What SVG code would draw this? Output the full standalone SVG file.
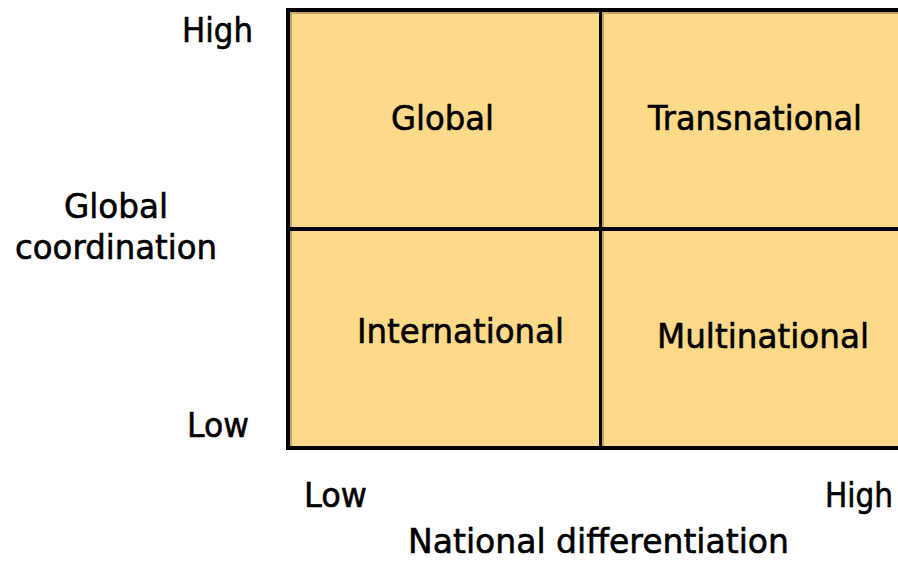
<svg xmlns="http://www.w3.org/2000/svg" width="898" height="562" viewBox="0 0 898 562">
  <style>
    .cell { fill: #FDD98A; }
    .shade { stroke: #C4A264; stroke-width: 2; fill: none; }
    .rule { stroke: #000; fill: none; }
    .lbl { font-family: "DejaVu Sans", "Liberation Sans", sans-serif; font-size: 34px; fill: #000; stroke: #000; stroke-width: 0.6; }
  </style>
  <rect width="898" height="562" fill="#fff"/>

  <!-- quadrant cells -->
  <g id="cell-global">
    <rect class="cell" x="288" y="10" width="312.5" height="219"/>
    <text class="lbl" x="391" y="130" textLength="103" lengthAdjust="spacingAndGlyphs">Global</text>
  </g>
  <g id="cell-transnational">
    <rect class="cell" x="600.5" y="10" width="300" height="219"/>
    <text class="lbl" x="648" y="130" textLength="214" lengthAdjust="spacingAndGlyphs">Transnational</text>
  </g>
  <g id="cell-international">
    <rect class="cell" x="288" y="229" width="312.5" height="219"/>
    <text class="lbl" x="357" y="343" textLength="207" lengthAdjust="spacingAndGlyphs">International</text>
  </g>
  <g id="cell-multinational">
    <rect class="cell" x="600.5" y="229" width="300" height="219"/>
    <text class="lbl" x="657" y="348" textLength="212" lengthAdjust="spacingAndGlyphs">Multinational</text>
  </g>

  <!-- grid lines -->
  <g id="grid">
    <line class="shade" x1="291" y1="12" x2="291" y2="446"/>
    <line class="shade" x1="290" y1="13" x2="898" y2="13"/>
    <line class="shade" x1="603" y1="12" x2="603" y2="446"/>
    <line class="rule" stroke-width="4" x1="288" y1="8" x2="288" y2="450"/>
    <line class="rule" stroke-width="4" x1="286" y1="10" x2="898" y2="10"/>
    <line class="rule" stroke-width="4" x1="286" y1="448" x2="898" y2="448"/>
    <line class="rule" stroke-width="3" x1="600.5" y1="10" x2="600.5" y2="448"/>
    <line class="rule" stroke-width="4" x1="288" y1="229" x2="898" y2="229"/>
  </g>

  <!-- vertical axis -->
  <g id="axis-y">
    <text class="lbl" x="182" y="42" textLength="71" lengthAdjust="spacingAndGlyphs">High</text>
    <text class="lbl" x="64" y="218" textLength="104" lengthAdjust="spacingAndGlyphs">Global</text>
    <text class="lbl" x="15" y="259" textLength="202" lengthAdjust="spacingAndGlyphs">coordination</text>
    <text class="lbl" x="187" y="437" textLength="62" lengthAdjust="spacingAndGlyphs">Low</text>
  </g>

  <!-- horizontal axis -->
  <g id="axis-x">
    <text class="lbl" x="304" y="507" textLength="63" lengthAdjust="spacingAndGlyphs">Low</text>
    <text class="lbl" x="893" y="507" text-anchor="end" textLength="68" lengthAdjust="spacingAndGlyphs">High</text>
    <text class="lbl" x="408" y="553" textLength="381" lengthAdjust="spacingAndGlyphs">National differentiation</text>
  </g>
</svg>
